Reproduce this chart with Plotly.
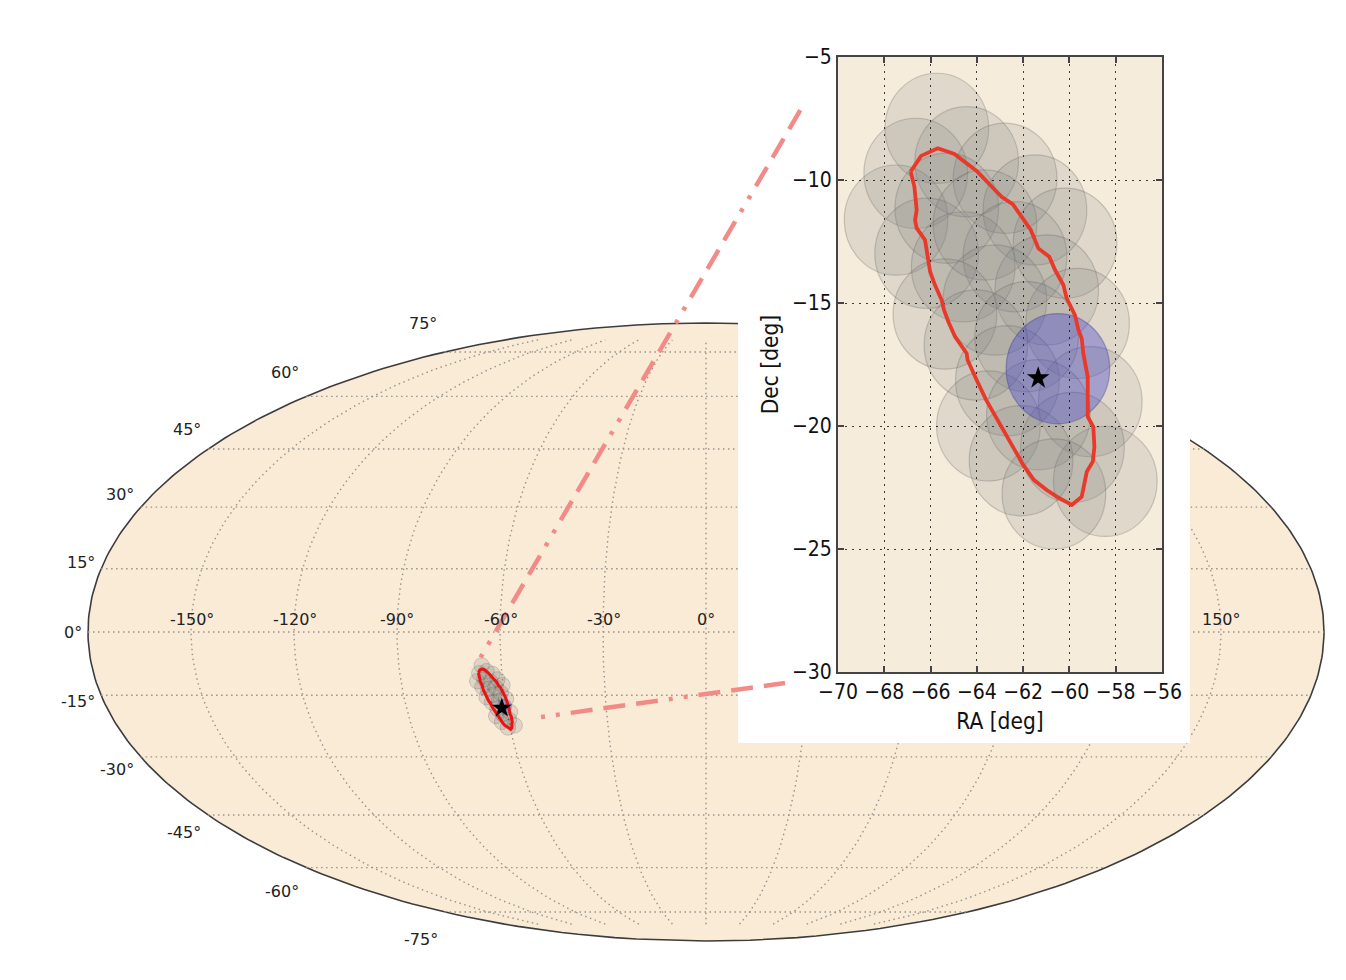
#!/usr/bin/env python3
# -*- coding: utf-8 -*-
import numpy as np
import plotly.graph_objects as go

FIG_W = 1346
FIG_H = 980
SANS = "DejaVu Sans"
NARROW = "DejaVu Sans Condensed, Liberation Sans Narrow, Roboto"

# Sky map grid
lon_ticks = [-150, -120, -90, -60, -30, 0, 30, 60, 90, 120, 150]
lat_ticks = [-75, -60, -45, -30, -15, 0, 15, 30, 45, 60, 75]

# The labels that are not hidden by the inset
lon_labels = ["-150°", "-120°", "-90°", "-60°", "-30°", "0°", "150°"]
lat_labels = ["75°", "60°", "45°", "30°", "15°", "0°",
              "-15°", "-30°", "-45°", "-60°", "-75°"]

# Credible region contour
contour_ra = [-66.86, -66.41, -65.69, -64.97, -64.01, -62.93, -62.45, -61.67,
              -61.34, -60.87, -60.62, -60.26, -60.12, -59.76, -59.61, -59.47,
              -59.40, -59.21, -59.21, -58.97, -58.92, -58.99, -59.25, -59.47,
              -59.90, -60.55, -60.98, -61.53, -61.99, -62.49, -63.00, -63.60,
              -64.01, -64.40, -64.44, -64.94, -65.23, -65.42, -65.52, -65.81,
              -66.02, -66.24, -66.60, -66.67, -66.60, -66.70, -66.86]
contour_dec = [-9.66, -9.02, -8.71, -8.94, -9.63, -10.68, -10.98, -12.03,
               -12.78, -13.12, -13.66, -14.27, -14.81, -15.49, -16.10, -16.44,
               -17.05, -18.00, -19.62, -20.03, -20.84, -21.45, -21.86, -22.87,
               -23.21, -22.87, -22.60, -22.20, -21.59, -20.77, -19.96, -18.94,
               -18.13, -17.32, -17.05, -16.37, -15.76, -15.28, -14.88, -14.27,
               -13.73, -12.44, -11.96, -11.63, -11.22, -10.27, -9.66]

# Telescope pointings
field_ra = [-65.73, -64.44, -66.64, -62.78, -67.49, -65.30, -61.49, -66.17,
            -63.65, -60.19, -62.35, -64.59, -60.98, -63.22, -65.38, -59.65,
            -61.85, -64.04, -62.68, -59.10, -63.50, -61.34, -59.87, -62.09,
            -58.45, -60.67]
field_dec = [-7.90, -9.26, -9.73, -9.93, -11.63, -11.15, -11.22, -12.98,
             -11.83, -12.57, -13.12, -13.53, -14.47, -14.88, -15.45, -15.83,
             -16.37, -16.71, -18.16, -19.01, -20.00, -19.54, -20.87, -21.41,
             -22.25, -22.76]
field_radius = 2.24

# The pointing that holds the source
hit_ra = [-60.50]
hit_dec = [-17.67]
source_ra = [-61.35]
source_dec = [-18.05]

# Inset axes
inset_x_ticks = [-70, -68, -66, -64, -62, -60, -58, -56]
inset_y_ticks = [-30, -25, -20, -15, -10, -5]


def mollweide(lon, lat):
    lon = np.radians(np.asarray(lon, dtype=float))
    lat = np.radians(np.asarray(lat, dtype=float))
    theta = lat.copy()
    for _ in range(60):
        denom = np.maximum(2 + 2 * np.cos(2 * theta), 1e-6)
        theta = theta - (2 * theta + np.sin(2 * theta)
                         - np.pi * np.sin(lat)) / denom
    theta = np.clip(theta, -np.pi / 2, np.pi / 2)
    x = 2 * np.sqrt(2) / np.pi * lon * np.cos(theta)
    y = np.sqrt(2) * np.sin(theta)
    return x, y


def px(x, y):
    return x / FIG_W, 1 - y / FIG_H


fig = go.Figure()

# Plot sky ellipse
edge_lat = np.linspace(-90, 90, 181)
edge_left = mollweide(np.full(181, -180.0), edge_lat)
edge_right = mollweide(np.full(181, 180.0), edge_lat[::-1])
fig.add_trace(go.Scatter(
    x=np.concatenate([edge_left[0], edge_right[0]]),
    y=np.concatenate([edge_left[1], edge_right[1]]),
    mode="lines",
    fill="toself",
    fillcolor="#faebd7",
    line={"color": "#3c3c3c", "width": 1.6},
    hoverinfo="skip"
))

# Plot graticule
grid_line = {"color": "#98938d", "width": 1.4, "dash": "1.5px,3.5px"}
for lat in lat_ticks:
    lons = np.linspace(-180, 180, 121)
    gx, gy = mollweide(lons, np.full(121, float(lat)))
    fig.add_trace(go.Scatter(x=gx, y=gy, mode="lines", line=grid_line,
                             hoverinfo="skip"))
for lon in lon_ticks:
    lats = np.linspace(-80, 80, 121)
    gx, gy = mollweide(np.full(121, float(lon)), lats)
    fig.add_trace(go.Scatter(x=gx, y=gy, mode="lines", line=grid_line,
                             hoverinfo="skip"))

# Plot the small copy of the localization
fx, fy = mollweide(field_ra, field_dec)
fig.add_trace(go.Scatter(
    x=fx, y=fy, mode="markers",
    marker={"size": 15.5, "color": "rgba(110,110,110,0.18)",
            "line": {"color": "rgba(90,90,90,0.25)", "width": 1}},
    hoverinfo="skip"
))
hx, hy = mollweide(hit_ra, hit_dec)
fig.add_trace(go.Scatter(
    x=hx, y=hy, mode="markers",
    marker={"size": 15.5, "color": "rgba(60,60,205,0.35)"},
    hoverinfo="skip"
))
cx, cy = mollweide(contour_ra, contour_dec)
fig.add_trace(go.Scatter(x=cx, y=cy, mode="lines",
                         line={"color": "#ee1111", "width": 3},
                         hoverinfo="skip"))
sx, sy = mollweide(source_ra, source_dec)
fig.add_trace(go.Scatter(x=sx, y=sy, mode="markers",
                         marker={"symbol": "star", "size": 15, "color": "black"},
                         hoverinfo="skip"))

# White panel behind the inset
fig.add_trace(go.Scatter(
    x=[0, 1, 1, 0], y=[0, 0, 1, 1], mode="none", fill="toself",
    fillcolor="white", xaxis="x2", yaxis="y2", hoverinfo="skip"
))

# Plot inset
fig.add_trace(go.Scatter(
    x=contour_ra, y=contour_dec, mode="lines",
    line={"color": "#e8392a", "width": 3.8},
    xaxis="x3", yaxis="y3", hoverinfo="skip"
))
fig.add_trace(go.Scatter(
    x=source_ra, y=source_dec, mode="markers",
    marker={"symbol": "star", "size": 17, "color": "black"},
    xaxis="x3", yaxis="y3", hoverinfo="skip"
))

shapes = [dict(type="rect", xref="x3", yref="y3", layer="below",
               x0=-70, x1=-56, y0=-30, y1=-5,
               fillcolor="#f6ecdb", line={"width": 0})]
for ra, dec in zip(field_ra, field_dec):
    shapes.append(dict(type="circle", xref="x3", yref="y3", layer="below",
                       x0=ra - field_radius, x1=ra + field_radius,
                       y0=dec - field_radius, y1=dec + field_radius,
                       fillcolor="rgba(128,128,128,0.18)",
                       line={"color": "rgba(100,100,100,0.3)", "width": 1.2}))
for ra, dec in zip(hit_ra, hit_dec):
    shapes.append(dict(type="circle", xref="x3", yref="y3", layer="below",
                       x0=ra - field_radius, x1=ra + field_radius,
                       y0=dec - field_radius, y1=dec + field_radius,
                       fillcolor="rgba(60,60,205,0.36)",
                       line={"color": "rgba(60,60,150,0.4)", "width": 1.2}))

# Zoom guide lines, dot dot dash dash dash
zoom_line = {"color": "#f28b88", "width": 4.5,
             "dash": "4px,11px,4px,11px,22px,11px,22px,11px,22px,11px"}
for start, end in [((480.5, 657.5), (805, 102)), ((541, 717), (785, 683))]:
    x0, y0 = px(*start)
    x1, y1 = px(*end)
    shapes.append(dict(type="line", xref="paper", yref="paper", layer="above",
                       x0=x0, y0=y0, x1=x1, y1=y1, line=zoom_line))

# Tick labels of the sky map
annotations = []
lon_label_pos = [(192, 619), (295, 619), (397, 619), (501, 619), (604, 619),
                 (706, 619), (1221, 619)]
lat_label_pos = [(423, 324), (285, 372), (187, 430), (120, 495), (81, 562),
                 (73, 632), (78, 701), (117, 769), (184, 832), (282, 891),
                 (421, 939)]
for text, pos in zip(lon_labels + lat_labels, lon_label_pos + lat_label_pos):
    ax, ay = px(*pos)
    annotations.append(dict(text=text, x=ax, y=ay, xref="paper", yref="paper",
                            showarrow=False, xanchor="center", yanchor="middle",
                            font={"family": SANS, "size": 16, "color": "#222222"}))

# Pixel mapping of the ellipse, centre (706, 632), half axes 618 x 309
unit = 2 * np.sqrt(2) / 618
inset_axis = dict(
    showline=True, linecolor="#444444", linewidth=2, mirror="allticks",
    ticks="inside", ticklen=6, tickwidth=1.5, tickcolor="#444444",
    showgrid=True, gridcolor="rgba(0,0,0,0.75)", griddash="2px,5px", gridwidth=1,
    zeroline=False,
    tickfont={"family": NARROW, "size": 21, "color": "#111111"},
)
title_font = {"family": NARROW, "size": 22.5, "color": "#111111"}

fig.update_layout(
    width=FIG_W, height=FIG_H,
    margin={"l": 0, "r": 0, "t": 0, "b": 0, "autoexpand": False},
    paper_bgcolor="white", plot_bgcolor="rgba(0,0,0,0)",
    showlegend=False,
    shapes=shapes, annotations=annotations,
    xaxis=dict(domain=[0, 1], range=[-706 * unit, (FIG_W - 706) * unit],
               visible=False, fixedrange=True),
    yaxis=dict(domain=[0, 1], range=[-(FIG_H - 632) * unit, 632 * unit],
               visible=False, fixedrange=True),
    xaxis2=dict(domain=[738 / FIG_W, 1190 / FIG_W], range=[0, 1], visible=False,
                anchor="y2"),
    yaxis2=dict(domain=[1 - 743 / FIG_H, 1 - 40 / FIG_H], range=[0, 1], visible=False,
                anchor="x2"),
    xaxis3=dict(domain=[838 / FIG_W, 1162 / FIG_W], range=[-70, -56], anchor="y3",
                tickvals=inset_x_ticks,
                title={"text": "RA [deg]", "standoff": 10, "font": title_font},
                **inset_axis),
    yaxis3=dict(domain=[1 - 672 / FIG_H, 1 - 57 / FIG_H], range=[-30, -5], anchor="x3",
                tickvals=inset_y_ticks,
                title={"text": "Dec [deg]", "standoff": 7, "font": title_font},
                **inset_axis),
)

# Browser default body margin would shift the figure by 8 px
fig.write_html("out.html", config={"displayModeBar": False},
               post_script="document.body.style.margin = '0';")
